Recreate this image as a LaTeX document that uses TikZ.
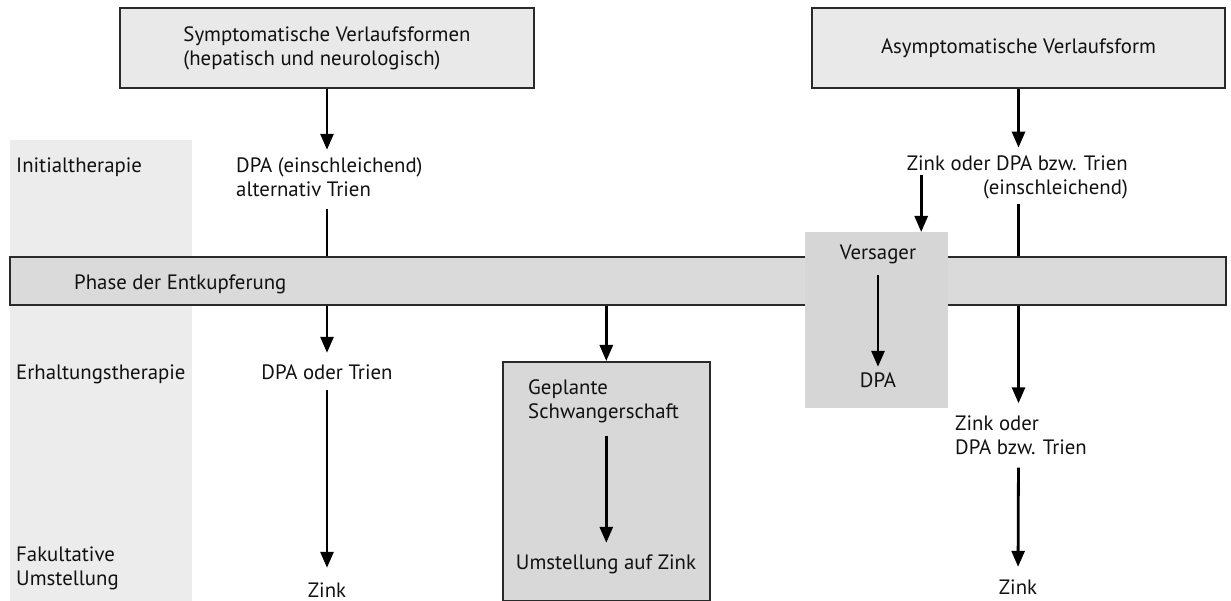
\documentclass[tikz,border=0pt]{standalone}
\usepackage{fontspec}
\setmainfont{PT Sans}
\usetikzlibrary{arrows.meta}
\definecolor{topgray}{HTML}{E9E9E9}
\definecolor{bargray}{HTML}{DADADA}
\definecolor{vergray}{HTML}{D6D6D6}
\definecolor{schwgray}{HTML}{D8D8D8}
\definecolor{colgray}{HTML}{ECECEC}
\definecolor{edge}{HTML}{2A2A2A}
\definecolor{ink}{HTML}{111111}
\begin{document}
\begin{tikzpicture}[x=1pt,y=-1pt,
  font=\fontsize{20.8}{24}\selectfont,
  text=ink,
  arr/.style={draw=black,line width=2.8pt,-{Triangle[length=16pt,width=13pt]}},
  ln/.style={draw=black,line width=2.8pt},
  txt/.style={inner sep=0pt,text height=14pt,text depth=0pt},
  mtxt/.style={inner sep=0pt},
  framebox/.style={draw=edge,line width=1.6pt,inner sep=0pt},
  plainbox/.style={inner sep=0pt,anchor=north west}]
\useasboundingbox (0,0) rectangle (1231,601);
% left column
\node[plainbox,fill=colgray,minimum width=182pt,minimum height=461pt] (col) at (10,140) {};
% top boxes
\node[framebox,fill=topgray,minimum width=414pt,minimum height=80pt,align=left] (symp) at (327,48) {Symptomatische Verlaufsformen\\(hepatisch und neurologisch)};
\node[framebox,fill=topgray,minimum width=413pt,minimum height=80pt] (asym) at (1018.5,48) {Asymptomatische Verlaufsform};
% bar
\node[framebox,fill=bargray,minimum width=1216pt,minimum height=48pt,anchor=north west] (bar) at (9,256) {};
\node[txt,anchor=west] (phase) at (74,283) {Phase der Entkupferung};
% Versager box
\node[plainbox,fill=vergray,minimum width=143pt,minimum height=176pt] (verbox) at (805,232) {};
\node[txt] (ver) at (878,253) {Versager};
\node[txt] (vdpa) at (878,380) {DPA};
% Schwangerschaft box
\node[framebox,fill=schwgray,minimum width=207pt,minimum height=239pt,anchor=north west] (schw) at (502,361) {};
\node[mtxt,align=left,anchor=west] (gep) at (528,401) {Geplante\\Schwangerschaft};
\node[txt] (umst) at (606,562) {Umstellung auf Zink};
% labels
\node[txt,anchor=west] (init) at (16,166) {Initialtherapie};
\node[txt,anchor=west] (erh) at (16,372) {Erhaltungstherapie};
\node[mtxt,align=left,anchor=west] (fak) at (16,568) {Fakultative\\Umstellung};
% left path texts
\node[mtxt,align=left,anchor=west] (dpa1) at (236,177.5) {DPA (einschleichend)\\alternativ Trien};
\node[txt] (dpaoder) at (327,372) {DPA oder Trien};
\node[txt] (zinkL) at (327,590) {Zink};
% right path texts
\node[mtxt,align=right,anchor=east] (zd1) at (1128,177.5) {Zink oder DPA bzw. Trien\\(einschleichend)};
\node[mtxt,align=left,anchor=west] (zd2) at (955,435) {Zink oder\\DPA bzw. Trien};
\node[txt] (zinkR) at (1018,587) {Zink};
\coordinate (vin) at ([xshift=44.5pt]verbox.north);
% connectors
\draw[arr,shorten >=8pt] (symp.south) -- (symp.south |- dpa1.north);
\draw[ln,shorten <=12pt] (symp.south |- dpa1.south) -- (symp.south |- bar.north);
\draw[arr,shorten >=12pt] (symp.south |- bar.south) -- (dpaoder.north);
\draw[arr,shorten <=11pt,shorten >=15pt] (dpaoder.south) -- (zinkL.north);
\draw[arr] (schw.north |- bar.south) -- (schw.north);
\draw[arr,shorten <=13pt,shorten >=12pt] (schw.north |- gep.south) -- (schw.north |- umst.north);
\draw[arr,shorten <=15pt,shorten >=6pt] (ver.south) -- (vdpa.north);
\draw[arr,shorten >=8pt] (asym.south) -- (asym.south |- zd1.north);
\draw[arr,shorten <=19pt] (vin |- zd1.north) -- (vin);
\draw[ln,shorten <=5pt] (asym.south |- zd1.south) -- (asym.south |- bar.north);
\draw[arr,shorten >=12pt] (asym.south |- bar.south) -- (asym.south |- zd2.north);
\draw[arr,shorten <=13pt,shorten >=13pt] (asym.south |- zd2.south) -- (zinkR.north);
\end{tikzpicture}
\end{document}
